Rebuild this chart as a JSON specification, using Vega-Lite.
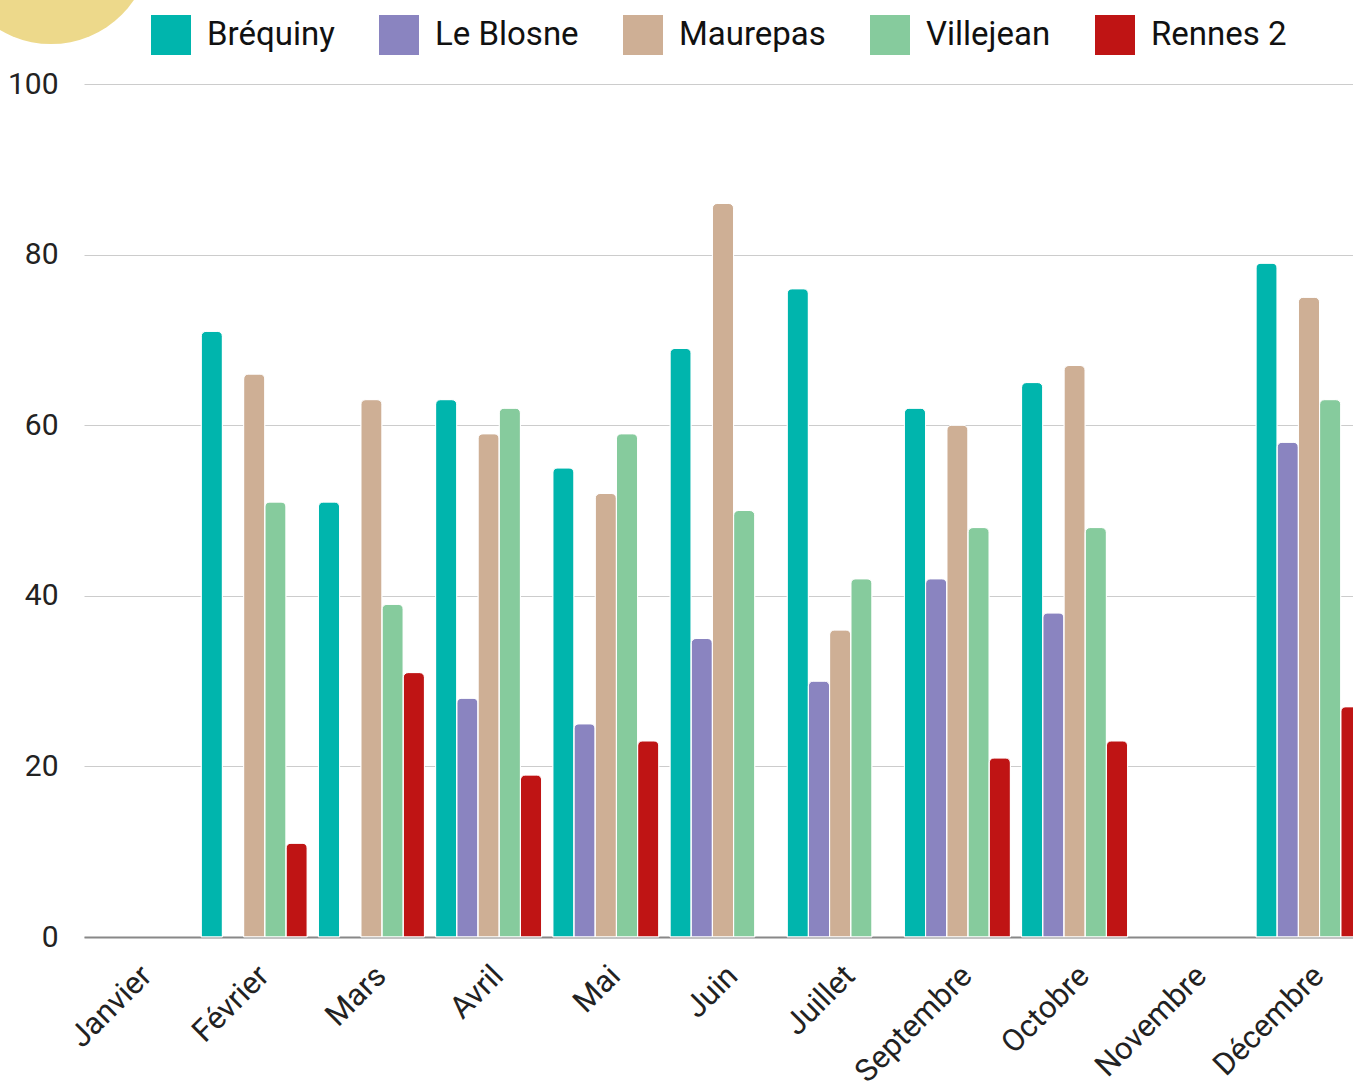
{
  "$schema": "https://vega.github.io/schema/vega-lite/v6.json",
  "width": 1278,
  "height": 853,
  "autosize": {"type": "none"},
  "padding": {"left": 84, "top": 84, "right": 0, "bottom": 150},
  "background": "white",
  "config": {
    "font": "Roboto",
    "view": {"stroke": null}
  },
  "layer": [
    {
      "data": {"values": [{"month": "Janvier", "value": 116.4}]},
      "mark": {"type": "point", "filled": true, "shape": "circle", "size": 40000, "color": "#EDD98B", "opacity": 1, "xOffset": -86, "clip": false},
      "encoding": {
        "x": {"field": "month", "type": "nominal"},
        "y": {"field": "value", "type": "quantitative"}
      }
    },
    {
      "data": {
        "values": [
          {"month": "Février", "site": "Bréquiny", "value": 71},
          {"month": "Février", "site": "Maurepas", "value": 66},
          {"month": "Février", "site": "Villejean", "value": 51},
          {"month": "Février", "site": "Rennes 2", "value": 11},
          {"month": "Mars", "site": "Bréquiny", "value": 51},
          {"month": "Mars", "site": "Maurepas", "value": 63},
          {"month": "Mars", "site": "Villejean", "value": 39},
          {"month": "Mars", "site": "Rennes 2", "value": 31},
          {"month": "Avril", "site": "Bréquiny", "value": 63},
          {"month": "Avril", "site": "Le Blosne", "value": 28},
          {"month": "Avril", "site": "Maurepas", "value": 59},
          {"month": "Avril", "site": "Villejean", "value": 62},
          {"month": "Avril", "site": "Rennes 2", "value": 19},
          {"month": "Mai", "site": "Bréquiny", "value": 55},
          {"month": "Mai", "site": "Le Blosne", "value": 25},
          {"month": "Mai", "site": "Maurepas", "value": 52},
          {"month": "Mai", "site": "Villejean", "value": 59},
          {"month": "Mai", "site": "Rennes 2", "value": 23},
          {"month": "Juin", "site": "Bréquiny", "value": 69},
          {"month": "Juin", "site": "Le Blosne", "value": 35},
          {"month": "Juin", "site": "Maurepas", "value": 86},
          {"month": "Juin", "site": "Villejean", "value": 50},
          {"month": "Juillet", "site": "Bréquiny", "value": 76},
          {"month": "Juillet", "site": "Le Blosne", "value": 30},
          {"month": "Juillet", "site": "Maurepas", "value": 36},
          {"month": "Juillet", "site": "Villejean", "value": 42},
          {"month": "Septembre", "site": "Bréquiny", "value": 62},
          {"month": "Septembre", "site": "Le Blosne", "value": 42},
          {"month": "Septembre", "site": "Maurepas", "value": 60},
          {"month": "Septembre", "site": "Villejean", "value": 48},
          {"month": "Septembre", "site": "Rennes 2", "value": 21},
          {"month": "Octobre", "site": "Bréquiny", "value": 65},
          {"month": "Octobre", "site": "Le Blosne", "value": 38},
          {"month": "Octobre", "site": "Maurepas", "value": 67},
          {"month": "Octobre", "site": "Villejean", "value": 48},
          {"month": "Octobre", "site": "Rennes 2", "value": 23},
          {"month": "Décembre", "site": "Bréquiny", "value": 79},
          {"month": "Décembre", "site": "Le Blosne", "value": 58},
          {"month": "Décembre", "site": "Maurepas", "value": 75},
          {"month": "Décembre", "site": "Villejean", "value": 63},
          {"month": "Décembre", "site": "Rennes 2", "value": 27}
        ]
      },
      "mark": {"type": "bar", "cornerRadiusTopLeft": 5, "cornerRadiusTopRight": 5, "stroke": "white", "strokeWidth": 1},
      "encoding": {
        "x": {
          "field": "month",
          "type": "nominal",
          "sort": null,
          "scale": {
            "domain": ["Janvier", "Février", "Mars", "Avril", "Mai", "Juin", "Juillet", "Septembre", "Octobre", "Novembre", "Décembre"],
            "paddingInner": 0.095,
            "paddingOuter": 0
          },
          "axis": {
            "title": null,
            "labelAngle": -45,
            "labelFontSize": 31,
            "labelColor": "#222222",
            "labelPadding": 34,
            "labelOffset": 10,
            "ticks": false,
            "domainColor": "#888888",
            "domainWidth": 2,
            "grid": false
          }
        },
        "xOffset": {
          "field": "site",
          "type": "nominal",
          "scale": {"domain": ["Bréquiny", "Le Blosne", "Maurepas", "Villejean", "Rennes 2"], "paddingInner": 0, "paddingOuter": 0}
        },
        "y": {
          "field": "value",
          "type": "quantitative",
          "scale": {"domain": [0, 100], "nice": false},
          "axis": {
            "title": null,
            "values": [0, 20, 40, 60, 80, 100],
            "labelFontSize": 30,
            "labelColor": "#222222",
            "labelPadding": 26,
            "ticks": false,
            "domain": false,
            "gridColor": "#cccccc",
            "gridWidth": 1
          }
        },
        "color": {
          "field": "site",
          "type": "nominal",
          "scale": {
            "domain": ["Bréquiny", "Le Blosne", "Maurepas", "Villejean", "Rennes 2"],
            "range": ["#00B5AD", "#8A84C0", "#CEAF95", "#86CB9D", "#BF1414"]
          },
          "legend": {
            "title": null,
            "orient": "none",
            "direction": "horizontal",
            "legendX": 67,
            "legendY": -69,
            "symbolType": "square",
            "symbolSize": 1600,
            "symbolStrokeWidth": 0,
            "symbolOpacity": 1,
            "labelFontSize": 33,
            "labelColor": "#111111",
            "labelOffset": 16,
            "columnPadding": 44,
            "labelLimit": 300
          }
        }
      }
    }
  ]
}
